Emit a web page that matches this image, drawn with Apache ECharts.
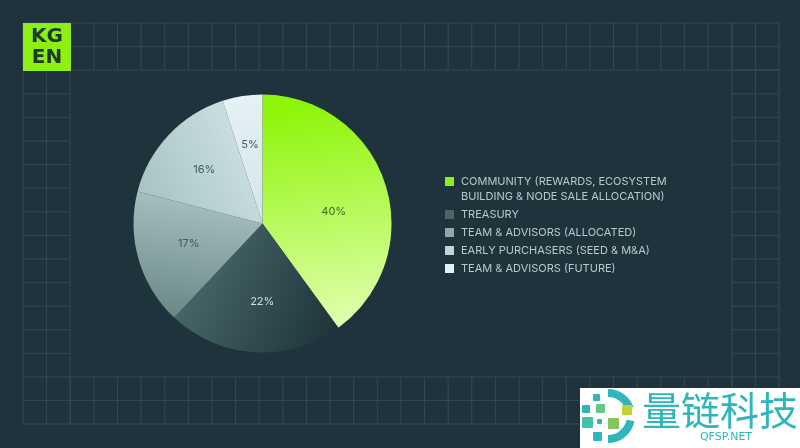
<!DOCTYPE html>
<html>
<head>
<meta charset="utf-8">
<style>html,body{margin:0;padding:0;background:#1f333c}#main{width:800px;height:448px}</style>
<script src="https://cdn.jsdelivr.net/npm/echarts@6/dist/echarts.min.js"></script>
</head>
<body>
<div id="main"></div>
<script>
var categories = ['COMMUNITY (REWARDS, ECOSYSTEM\nBUILDING & NODE SALE ALLOCATION)','TREASURY','TEAM & ADVISORS (ALLOCATED)','EARLY PURCHASERS (SEED & M&A)','TEAM & ADVISORS (FUTURE)'];
var values = [40,22,17,16,5];
var legendColors = ['#8cf012','#4c6666','#8fa9a9','#bcd6d6','#e2f1f3'];
var labelColors = ['#3f6b14','#d3dfdf','#3f5a60','#3f5a60','#3f5a60'];
var labelShift = [[7,9],[4,11],[-9,1],[-9,-8],[-2,-12]];

function grad(x,y,x2,y2,c1,c2){
	return {type:'linear',x:x,y:y,x2:x2,y2:y2,colorStops:[{offset:0,color:c1},{offset:1,color:c2}]};
}
var fills = [
	grad(0.35,0.05,0.6,1,'#8ef50a','#e2ffb0'),
	grad(0,0.2,1,0.75,'#4e6e6e','#1f343c'),
	grad(0.5,0,0.35,1,'#a9c2c2','#6a8886'),
	grad(0,0.8,1,0.3,'#a6c2c2','#d0e3e3'),
	grad(0,0,1,1,'#e6f2f4','#d3e5e9')
];

// background grid bands
var gridColor = '#344a50';
var xs = [], ys = [], i;
for(i=0;i<33;i++){ xs.push(23+i*23.62); }
for(i=0;i<18;i++){ ys.push(23+i*23.6); }
var graphics = [];
function line(x1,y1,x2,y2){
	graphics.push({type:'line',silent:true,z:-1,shape:{x1:x1,y1:y1,x2:x2,y2:y2},style:{stroke:gridColor,lineWidth:1}});
}
var L=23,R=779,T=23,B=424;
// horizontal
[T,T+23.6,T+47].forEach(function(y){ line(L,y,R,y); });
[B-47,B-23.6,B].forEach(function(y){ line(L,y,R,y); });
ys.forEach(function(y){
	if(y>T+47 && y<B-47){ line(L,y,L+47,y); line(R-47,y,R,y); }
});
// vertical
xs.forEach(function(x){
	if(x>L+47 && x<R-47){ line(x,T,x,T+47); line(x,B-47,x,B); }
});
[L,L+23.6,L+47,R-47,R-23.6,R].forEach(function(x){ line(x,T,x,B); });

// logo
graphics.push({type:'rect',silent:true,shape:{x:23,y:23,width:48,height:48},style:{fill:'#8fef12'}});
graphics.push({type:'text',silent:true,x:47,y:37,style:{text:'KG',font:'bold 20px "DejaVu Sans"',fill:'#1c3a2a',align:'center',verticalAlign:'middle'}});
graphics.push({type:'text',silent:true,x:47,y:58,style:{text:'EN',font:'bold 20px "DejaVu Sans"',fill:'#1c3a2a',align:'center',verticalAlign:'middle'}});

// watermark
var teal = '#2fb6ba';
graphics.push({type:'rect',silent:true,z:5,shape:{x:580,y:388,width:220,height:60},style:{fill:'#ffffff'}});
graphics.push({type:'arc',silent:true,z:6,shape:{cx:608,cy:416,r:23,startAngle:-1.57,endAngle:-0.35},style:{stroke:teal,lineWidth:8,fill:'none'}});
graphics.push({type:'arc',silent:true,z:6,shape:{cx:608,cy:416,r:23,startAngle:0.2,endAngle:1.57},style:{stroke:teal,lineWidth:8,fill:'none'}});
[[593,394,7,'#2fb6ba'],[596,404,9,'#6cc68a'],[622,405,10,'#c3d233'],[582,405,8,'#2fb6ba'],[582,417,11,'#45c1b0'],[597,419,5,'#2fb6ba'],[608,418,11,'#86c55e'],[593,432,9,'#2fb6ba']].forEach(function(s){
	graphics.push({type:'rect',silent:true,z:6,shape:{x:s[0],y:s[1],width:s[2],height:s[2],r:1},style:{fill:s[3]}});
});
graphics.push({type:'text',silent:true,z:6,x:642,y:410,style:{text:'量链科技',font:'39px "Noto Sans CJK SC"',fill:teal,verticalAlign:'middle'}});
graphics.push({type:'text',silent:true,z:6,x:726,y:437,style:{text:'QFSP.NET',font:'11px "DejaVu Sans"',fill:teal,align:'center',verticalAlign:'middle'}});

var pieData = [];
for(i=0;i<values.length;i++){
	pieData.push({
		name:categories[i],
		value:values[i],
		itemStyle:{color:fills[i]},
		label:{color:labelColors[i]}
	});
}

var chart = echarts.init(document.getElementById('main'),null,{renderer:'canvas'});
chart.setOption({
	backgroundColor:'#1f333c',
	animation:false,
	legend:{
		orient:'vertical',
		left:445,
		top:159,
		padding:0,
		itemWidth:9,
		itemHeight:9,
		itemGap:3,
		icon:'rect',
		selectedMode:false,
		data:categories.map(function(c,k){ return {name:c,itemStyle:{color:legendColors[k]}}; }),
		// blank first line keeps the swatch level with the first text line
		formatter:function(name){
			return name.indexOf('\n')>=0 ? '\n'+name : name;
		},
		textStyle:{color:'#b8c9c9',fontFamily:'Inter',fontSize:11,lineHeight:15,padding:[0,0,0,2]}
	},
	graphic:graphics,
	series:[{
		type:'pie',
		center:[262.5,223.5],
		radius:[0,129],
		startAngle:90,
		clockwise:true,
		avoidLabelOverlap:false,
		label:{
			position:'inside',
			formatter:'{d}%',
			fontFamily:'Inter',
			fontSize:11
		},
		labelLine:{show:false},
		labelLayout:function(p){
			return {dx:labelShift[p.dataIndex][0],dy:labelShift[p.dataIndex][1]};
		},
		emphasis:{disabled:true},
		data:pieData
	}]
});
</script>
</body>
</html>
